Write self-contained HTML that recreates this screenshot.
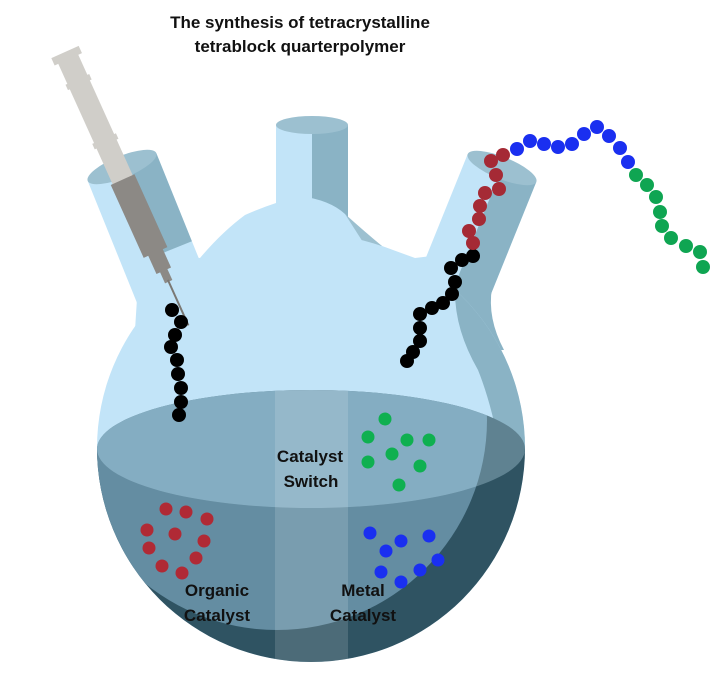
<!DOCTYPE html>
<html><head><meta charset="utf-8"><style>
html,body{margin:0;padding:0;background:#fff;}
svg{display:block;}
text{font-family:"Liberation Sans",sans-serif;font-weight:bold;fill:#111;}
</style></head><body>
<svg width="720" height="675" viewBox="0 0 720 675" xmlns="http://www.w3.org/2000/svg">
<defs>
<clipPath id="sph"><circle cx="311" cy="448" r="214"/></clipPath>
<clipPath id="inner"><circle cx="277" cy="420" r="210"/></clipPath>
<clipPath id="liq"><ellipse cx="311" cy="449" rx="214" ry="59"/><rect x="90" y="449" width="440" height="230"/></clipPath>
</defs>
<text x="300" y="28" font-size="17" text-anchor="middle">The synthesis of tetracrystalline</text>
<text x="300" y="52" font-size="17" text-anchor="middle">tetrablock quarterpolymer</text>

<!-- center neck -->
<rect x="276" y="125" width="72" height="100" fill="#c2e4f8"/>
<rect x="312" y="125" width="36" height="100" fill="#8ab3c5"/>
<ellipse cx="312" cy="125" rx="36" ry="9" fill="#9cc0d0"/>

<!-- left neck -->
<g transform="rotate(-22 122 167)">
<rect x="85" y="167" width="74" height="170" fill="#c2e4f8"/>
<rect x="122" y="167" width="37" height="95" fill="#8ab3c5"/>
<ellipse cx="122" cy="167" rx="37" ry="11" fill="#9cc0d0"/>
</g>
<!-- right neck -->
<g transform="rotate(22 502 168)">
<rect x="465" y="168" width="74" height="170" fill="#c2e4f8"/>
<rect x="502" y="168" width="37" height="200" fill="#8ab3c5"/>
<ellipse cx="502" cy="168" rx="37" ry="11" fill="#9cc0d0"/>
</g>
<path d="M492,288 Q487,318 504,350 L458,350 L460,288 Z" fill="#8ab3c5"/>

<!-- blob -->
<path d="M135,330 L140,252 L200,258 Q222,232 245,215 Q272,203 300,196 Q330,200 345,214 Q365,236 382,246 L415,258 L440,255 L440,330 Z" fill="#c2e4f8"/>
<path d="M345,214 Q365,232 382,246 L368,250 Z" fill="#9cc0d0"/>

<!-- sphere -->
<g clip-path="url(#sph)">
<rect x="90" y="230" width="440" height="440" fill="#c2e4f8"/>
<path d="M473,240 L455,292 Q455,330 478,370 Q492,405 500,452 L560,452 L560,200 Z" fill="#8ab3c5"/>
<!-- liquid -->
<rect x="90" y="449" width="440" height="230" fill="#2f5362"/>
<g clip-path="url(#inner)"><rect x="90" y="449" width="440" height="230" fill="#648da2"/></g>
<ellipse cx="311" cy="449" rx="214" ry="59" fill="#5f8291"/>
<g clip-path="url(#inner)"><ellipse cx="311" cy="449" rx="214" ry="59" fill="#84adc2"/></g>
<g clip-path="url(#liq)"><rect x="275" y="380" width="73" height="300" fill="#ffffff" opacity="0.14"/></g>
</g>

<!-- syringe -->
<g transform="translate(65,52) rotate(-24.3)">
<rect x="-15" y="0" width="30" height="8" fill="#d0cec9"/>
<rect x="-11" y="6" width="22" height="140" fill="#d0cec9"/>
<rect x="-13" y="30" width="26" height="6" fill="#d0cec9"/>
<rect x="-13" y="95" width="26" height="6" fill="#d0cec9"/>
<rect x="-13" y="140" width="26" height="80" fill="#8c8985"/>
<rect x="-8" y="218" width="16" height="22" fill="#8c8985"/>
<rect x="-4" y="238" width="8" height="14" fill="#8c8985"/>
<rect x="-1" y="250" width="2" height="50" fill="#7a7874"/>
</g>

<!-- chains -->
<g fill="#000">
<circle cx="172" cy="310" r="7"/><circle cx="181" cy="322" r="7"/><circle cx="175" cy="335" r="7"/><circle cx="171" cy="347" r="7"/><circle cx="177" cy="360" r="7"/><circle cx="178" cy="374" r="7"/><circle cx="181" cy="388" r="7"/><circle cx="181" cy="402" r="7"/><circle cx="179" cy="415" r="7"/>
<circle cx="473" cy="256" r="7"/><circle cx="462" cy="260" r="7"/><circle cx="451" cy="268" r="7"/><circle cx="455" cy="282" r="7"/><circle cx="452" cy="294" r="7"/><circle cx="443" cy="303" r="7"/><circle cx="432" cy="308" r="7"/><circle cx="420" cy="314" r="7"/><circle cx="420" cy="328" r="7"/><circle cx="420" cy="341" r="7"/><circle cx="413" cy="352" r="7"/><circle cx="407" cy="361" r="7"/>
</g>
<g fill="#a52a35">
<circle cx="491" cy="161" r="7"/><circle cx="503" cy="155" r="7"/><circle cx="496" cy="175" r="7"/><circle cx="499" cy="189" r="7"/><circle cx="485" cy="193" r="7"/><circle cx="480" cy="206" r="7"/><circle cx="479" cy="219" r="7"/><circle cx="469" cy="231" r="7"/><circle cx="473" cy="243" r="7"/>
</g>
<g fill="#1a2ff0">
<circle cx="517" cy="149" r="7"/><circle cx="530" cy="141" r="7"/><circle cx="544" cy="144" r="7"/><circle cx="558" cy="147" r="7"/><circle cx="572" cy="144" r="7"/><circle cx="584" cy="134" r="7"/><circle cx="597" cy="127" r="7"/><circle cx="609" cy="136" r="7"/><circle cx="620" cy="148" r="7"/><circle cx="628" cy="162" r="7"/>
</g>
<g fill="#0fa552">
<circle cx="636" cy="175" r="7"/><circle cx="647" cy="185" r="7"/><circle cx="656" cy="197" r="7"/><circle cx="660" cy="212" r="7"/><circle cx="662" cy="226" r="7"/><circle cx="671" cy="238" r="7"/><circle cx="686" cy="246" r="7"/><circle cx="700" cy="252" r="7"/><circle cx="703" cy="267" r="7"/>
</g>

<!-- liquid dots -->
<g fill="#0fb050">
<circle cx="385" cy="419" r="6.5"/><circle cx="368" cy="437" r="6.5"/><circle cx="407" cy="440" r="6.5"/><circle cx="429" cy="440" r="6.5"/><circle cx="392" cy="454" r="6.5"/><circle cx="368" cy="462" r="6.5"/><circle cx="420" cy="466" r="6.5"/><circle cx="399" cy="485" r="6.5"/>
</g>
<g fill="#b02a35">
<circle cx="166" cy="509" r="6.5"/><circle cx="186" cy="512" r="6.5"/><circle cx="207" cy="519" r="6.5"/><circle cx="147" cy="530" r="6.5"/><circle cx="175" cy="534" r="6.5"/><circle cx="204" cy="541" r="6.5"/><circle cx="149" cy="548" r="6.5"/><circle cx="196" cy="558" r="6.5"/><circle cx="162" cy="566" r="6.5"/><circle cx="182" cy="573" r="6.5"/>
</g>
<g fill="#1a2ff0">
<circle cx="370" cy="533" r="6.5"/><circle cx="401" cy="541" r="6.5"/><circle cx="429" cy="536" r="6.5"/><circle cx="386" cy="551" r="6.5"/><circle cx="438" cy="560" r="6.5"/><circle cx="381" cy="572" r="6.5"/><circle cx="420" cy="570" r="6.5"/><circle cx="401" cy="582" r="6.5"/>
</g>

<text x="310" y="462" font-size="17" text-anchor="middle">Catalyst</text>
<text x="311" y="487" font-size="17" text-anchor="middle">Switch</text>
<text x="217" y="596" font-size="17" text-anchor="middle">Organic</text>
<text x="217" y="621" font-size="17" text-anchor="middle">Catalyst</text>
<text x="363" y="596" font-size="17" text-anchor="middle">Metal</text>
<text x="363" y="621" font-size="17" text-anchor="middle">Catalyst</text>
</svg>
</body></html>
